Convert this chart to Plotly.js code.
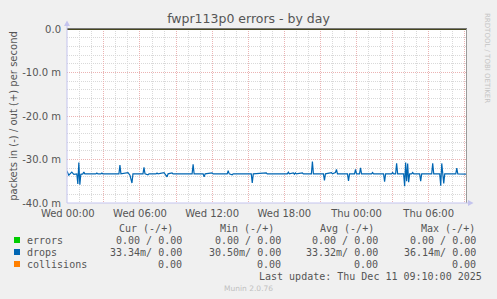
<!DOCTYPE html>
<html><head><meta charset="utf-8">
<script src="https://cdn.plot.ly/plotly-3.0.1.min.js"></script>
<style>html,body{margin:0;padding:0;background:#f0f0f0;}#chart{width:497px;height:299px;}</style>
</head><body><div id="chart"></div>
<script>
// ---- data ----
const chartTitle = 'fwpr113p0 errors - by day';
const yTitle = 'packets in (-) / out (+) per second';
const xRange = ['2025-12-09 23:56', '2025-12-11 09:11'];
const xTickVals = ['2025-12-10 00:00','2025-12-10 03:00','2025-12-10 06:00','2025-12-10 09:00','2025-12-10 12:00','2025-12-10 15:00',
  '2025-12-10 18:00','2025-12-10 21:00','2025-12-11 00:00','2025-12-11 03:00','2025-12-11 06:00','2025-12-11 09:00'];
const xTickText = ['Wed 00:00','','Wed 06:00','','Wed 12:00','','Wed 18:00','','Thu 00:00','','Thu 06:00',''];
const yTickVals = [0, -10, -20, -30, -40];
const yTickText = ['0.0', '-10.0 m', '-20.0 m', '-30.0 m', '-40.0 m'];

// drops, "in" direction (negative side), milli-packets per second
const dropsTimes = [
 '2025-12-09 23:55','2025-12-10 00:05','2025-12-10 00:20','2025-12-10 00:30','2025-12-10 00:45','2025-12-10 00:50','2025-12-10 00:55','2025-12-10 01:00','2025-12-10 01:05',
 '2025-12-10 01:15','2025-12-10 01:20','2025-12-10 01:25','2025-12-10 02:20','2025-12-10 02:25','2025-12-10 02:30','2025-12-10 02:45','2025-12-10 02:50','2025-12-10 02:55',
 '2025-12-10 04:15','2025-12-10 04:20','2025-12-10 04:25','2025-12-10 05:00','2025-12-10 05:05','2025-12-10 05:10','2025-12-10 05:20','2025-12-10 05:25',
 '2025-12-10 06:15','2025-12-10 06:20','2025-12-10 06:25','2025-12-10 06:40','2025-12-10 06:45','2025-12-10 07:20','2025-12-10 07:25','2025-12-10 07:30',
 '2025-12-10 08:00','2025-12-10 08:05','2025-12-10 08:10','2025-12-10 08:15','2025-12-10 08:20','2025-12-10 08:40','2025-12-10 08:45',
 '2025-12-10 10:20','2025-12-10 10:25','2025-12-10 10:30','2025-12-10 11:15','2025-12-10 11:20','2025-12-10 11:25','2025-12-10 12:00','2025-12-10 12:05',
 '2025-12-10 13:15','2025-12-10 13:20','2025-12-10 13:25','2025-12-10 13:40','2025-12-10 13:45','2025-12-10 15:15','2025-12-10 15:20','2025-12-10 15:25',
 '2025-12-10 16:30','2025-12-10 16:35','2025-12-10 18:15','2025-12-10 18:20','2025-12-10 18:25','2025-12-10 18:45','2025-12-10 18:50','2025-12-10 18:55','2025-12-10 19:00',
 '2025-12-10 19:30','2025-12-10 19:35','2025-12-10 20:15','2025-12-10 20:20','2025-12-10 20:25','2025-12-10 21:15','2025-12-10 21:20','2025-12-10 21:25',
 '2025-12-10 21:55','2025-12-10 22:00','2025-12-10 22:15','2025-12-10 22:20','2025-12-10 22:25','2025-12-10 23:15','2025-12-10 23:20','2025-12-10 23:25',
 '2025-12-10 23:50','2025-12-10 23:55','2025-12-11 00:00','2025-12-11 00:15','2025-12-11 00:20','2025-12-11 00:25','2025-12-11 01:15','2025-12-11 01:20','2025-12-11 01:25',
 '2025-12-11 02:15','2025-12-11 02:20','2025-12-11 02:25','2025-12-11 02:55','2025-12-11 03:00','2025-12-11 03:05','2025-12-11 03:15','2025-12-11 03:20','2025-12-11 03:25',
 '2025-12-11 03:55','2025-12-11 04:00','2025-12-11 04:05','2025-12-11 04:10','2025-12-11 04:15','2025-12-11 04:20','2025-12-11 04:25',
 '2025-12-11 04:35','2025-12-11 04:40','2025-12-11 04:45','2025-12-11 05:15','2025-12-11 05:20','2025-12-11 05:25','2025-12-11 06:15','2025-12-11 06:20','2025-12-11 06:25',
 '2025-12-11 06:55','2025-12-11 07:00','2025-12-11 07:05','2025-12-11 07:10','2025-12-11 07:15','2025-12-11 07:20','2025-12-11 08:15','2025-12-11 08:20','2025-12-11 08:25',
 '2025-12-11 09:10'];
const dropsIn = [
 -32.6,-33.6,-32.9,-33.4,-33.3,-35.6,-30.7,-35.8,-33.4,
 -33.3,-32.9,-33.3,-33.3,-33.1,-33.3,-33.3,-33.1,-33.3,
 -33.3,-31.3,-33.3,-33.0,-33.3,-33.6,-35.4,-33.3,
 -33.3,-31.8,-33.3,-33.5,-33.3,-33.3,-33.1,-33.3,
 -33.0,-33.3,-33.5,-34.0,-33.3,-33.1,-33.3,
 -33.3,-31.1,-33.3,-33.3,-34.0,-33.3,-33.1,-33.3,
 -33.3,-32.6,-33.3,-33.5,-33.3,-33.3,-35.4,-33.3,
 -33.1,-33.3,-33.3,-32.9,-33.3,-33.1,-33.4,-33.1,-33.3,
 -33.1,-33.3,-33.3,-30.5,-33.3,-33.3,-34.8,-33.3,
 -33.0,-33.3,-33.0,-32.3,-33.3,-33.3,-34.9,-33.3,
 -33.3,-32.3,-33.3,-33.3,-31.9,-33.3,-33.3,-33.0,-33.3,
 -33.3,-35.1,-33.3,-33.3,-33.0,-33.3,-33.3,-30.9,-33.3,
 -33.3,-36.14,-30.7,-35.0,-30.9,-35.2,-33.3,
 -33.3,-33.0,-33.3,-33.3,-35.0,-33.3,-33.3,-30.9,-33.3,
 -33.3,-36.0,-30.9,-33.5,-35.5,-33.3,-33.3,-32.0,-33.3,
 -33.34];
const zeroTimes = ['2025-12-09 23:55', '2025-12-11 09:10'];
const errorsIn = [0, 0], errorsOut = [0, 0], dropsOut = [0, 0], collisions = [0, 0];

const legendNames = ['errors', 'drops', 'collisions'];
const legendColors = ['#00cc00', '#0066b3', '#ff8000'];
const curVals = ['0.00 / 0.00', '33.34m/ 0.00', '0.00'];
const minVals = ['0.00 / 0.00', '30.50m/ 0.00', '0.00'];
const avgVals = ['0.00 / 0.00', '33.32m/ 0.00', '0.00'];
const maxVals = ['0.00 / 0.00', '36.14m/ 0.00', '0.00'];
const headers = ['Cur (-/+)', 'Min (-/+)', 'Avg (-/+)', 'Max (-/+)'];
const lastUpdate = 'Last update: Thu Dec 11 09:10:00 2025';
const muninVersion = 'Munin 2.0.76';
const watermark = 'RRDTOOL / TOBI OETIKER';

// ---- layout helpers (pixel -> paper) ----
const L = 67, R = 467, T = 29, B = 203;
const px = x => (x - L) / (R - L);
const py = y => (B - y) / (B - T);
const SANS = 'DejaVu Sans', MONO = 'DejaVu Sans Mono';
const TXT = '#555555';
const AXIS = '#c4c4ee';

const annotations = [];
function ann(text, x, y, xanchor, font, extra) {
  annotations.push(Object.assign({text, x: px(x), y: py(y), xref: 'paper', yref: 'paper', xanchor, yanchor: 'middle',
    showarrow: false, font, borderpad: 0}, extra || {}));
}
const monoFont = {family: MONO, size: 10, color: TXT};
const headerRight = [174, 275, 375, 476];
headers.forEach((h, i) => ann(h, headerRight[i], 228, 'right', monoFont));
const colRight = [183, 281.7, 379, 477];
const rowY = [240, 252, 264];
const shapes = [];
legendNames.forEach((n, i) => {
  ann(n, 26, rowY[i], 'left', monoFont);
  [curVals, minVals, avgVals, maxVals].forEach((col, c) => ann(col[i], colRight[c], rowY[i], 'right', monoFont));
  shapes.push({type: 'rect', xref: 'paper', yref: 'paper', x0: px(14), x1: px(20), y0: py(rowY[i] + 3), y1: py(rowY[i] - 3),
    fillcolor: legendColors[i], line: {width: 0}});
});
ann(lastUpdate, 483, 276, 'right', monoFont);
ann(muninVersion, 223, 288, 'left', {family: SANS, size: 7.5, color: '#c0c0c0'});
ann(watermark, 487, 58, 'center', {family: SANS, size: 7, color: '#c4c4c4'}, {textangle: 90});

// zero rule, frame bits and arrows
shapes.push({type: 'line', xref: 'paper', yref: 'paper', x0: 0, x1: 1, y0: 1, y1: 1, line: {color: '#000000', width: 1}, layer: 'above'});
shapes.push({type: 'line', xref: 'paper', yref: 'paper', x0: px(466.5), x1: px(466.5), y0: 0, y1: 1, line: {color: '#9a9a9a', width: 1}, layer: 'above'});
shapes.push({type: 'line', xref: 'paper', yref: 'paper', x0: px(67), x1: px(67), y0: py(203), y1: py(24), line: {color: AXIS, width: 1}});
shapes.push({type: 'line', xref: 'paper', yref: 'paper', x0: px(67), x1: px(470), y0: py(203), y1: py(203), line: {color: AXIS, width: 1}});
shapes.push({type: 'path', xref: 'paper', yref: 'paper',
  path: `M ${px(64)} ${py(26)} L ${px(70)} ${py(26)} L ${px(67)} ${py(20.5)} Z`, fillcolor: AXIS, line: {width: 0}});
shapes.push({type: 'path', xref: 'paper', yref: 'paper',
  path: `M ${px(468)} ${py(200)} L ${px(468)} ${py(206)} L ${px(473.5)} ${py(203)} Z`, fillcolor: AXIS, line: {width: 0}});

const traces = [
  {x: zeroTimes, y: errorsIn, mode: 'lines', line: {color: legendColors[0], width: 1}, hoverinfo: 'skip'},
  {x: zeroTimes, y: errorsOut, mode: 'lines', line: {color: legendColors[0], width: 1}, hoverinfo: 'skip'},
  {x: zeroTimes, y: dropsOut, mode: 'lines', line: {color: legendColors[1], width: 1}, hoverinfo: 'skip'},
  {x: zeroTimes, y: collisions, mode: 'lines', line: {color: legendColors[2], width: 1}, hoverinfo: 'skip'},
  {x: dropsTimes, y: dropsIn, mode: 'lines', line: {color: legendColors[1], width: 1.2}, hoverinfo: 'skip'}
];

const MAJ = '#ebb3b3', MIN = '#d9d9d9', DASH = '1px,1px';
const layout = {
  width: 497, height: 299,
  paper_bgcolor: '#f0f0f0', plot_bgcolor: '#ffffff',
  margin: {l: L, r: 497 - R, t: T, b: 299 - B, pad: 0},
  showlegend: false,
  title: {text: chartTitle, font: {family: SANS, size: 12.5, color: TXT}, x: 0.5, xref: 'container', xanchor: 'center',
    y: 1 - 19 / 299, yref: 'container', yanchor: 'middle'},
  xaxis: {type: 'date', range: xRange, tickmode: 'array', tickvals: xTickVals, ticktext: xTickText,
    showgrid: true, gridcolor: MAJ, griddash: DASH, gridwidth: 1,
    minor: {tickmode: 'linear', tick0: '2025-12-10 00:00', dtick: 3600000, showgrid: true, gridcolor: MIN, griddash: DASH, ticks: ''},
    showline: false, zeroline: false, ticks: '', ticklabelstandoff: 3, tickfont: {family: SANS, size: 10, color: TXT}, fixedrange: true},
  yaxis: {range: [-40, 0], tickmode: 'array', tickvals: yTickVals, ticktext: yTickText,
    showgrid: true, gridcolor: MAJ, griddash: DASH, gridwidth: 1,
    minor: {tickmode: 'linear', tick0: 0, dtick: 2, showgrid: true, gridcolor: MIN, griddash: DASH, ticks: ''},
    showline: false, zeroline: false, ticks: '', ticklabelstandoff: 5, tickfont: {family: SANS, size: 10, color: TXT},
    title: {text: yTitle, font: {family: SANS, size: 10, color: TXT}, standoff: 2}, fixedrange: true, automargin: false},
  annotations, shapes
};
Plotly.newPlot('chart', traces, layout, {staticPlot: true, displayModeBar: false});
</script></body></html>
